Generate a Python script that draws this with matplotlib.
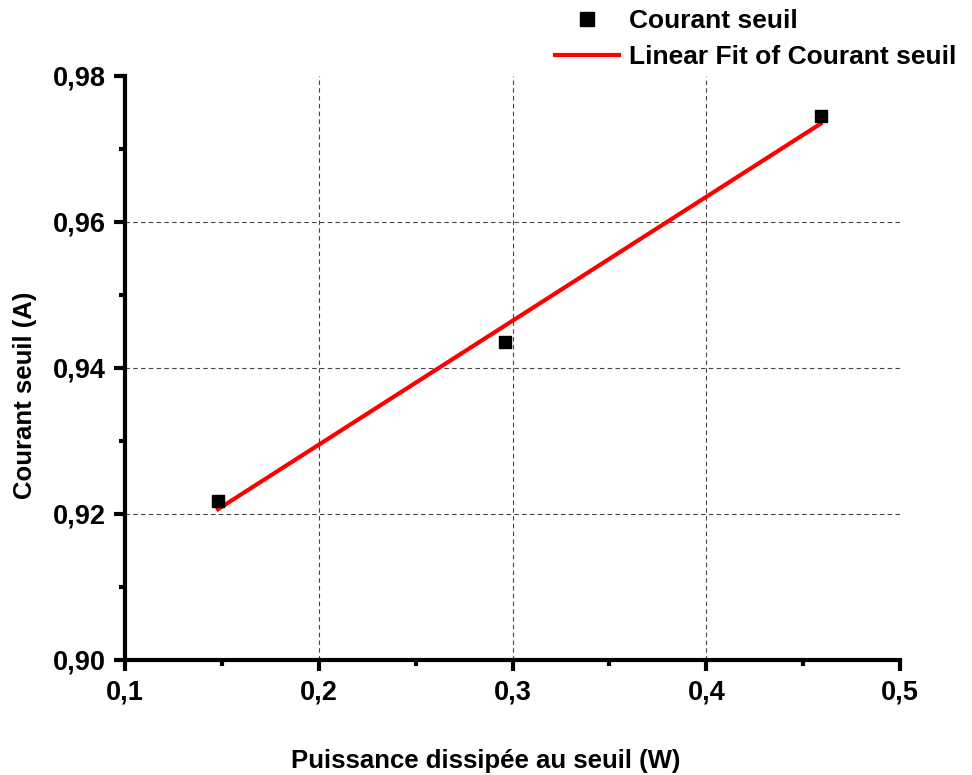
import numpy as np
import matplotlib
matplotlib.use("Agg")
import matplotlib.pyplot as plt
from matplotlib.ticker import MultipleLocator, FuncFormatter
from matplotlib.lines import Line2D

plt.rcParams['font.family'] = ['Liberation Sans', 'DejaVu Sans']
plt.rcParams['font.weight'] = 'bold'

puissance = [0.148, 0.296, 0.459]
courant = [0.9218, 0.9436, 0.9745]

x_ticks = [0.1, 0.2, 0.3, 0.4, 0.5]
y_ticks = [0.90, 0.92, 0.94, 0.96, 0.98]

fig = plt.figure(figsize=(9.72, 7.75), dpi=100)
ax = fig.add_axes([0.1286, 0.1484, 0.926 - 0.1286, 0.902 - 0.1484])

slope, intercept = np.polyfit(puissance, courant, 1)
xf = np.array([min(puissance), max(puissance)])
ax.plot(xf, slope * xf + intercept, color='red', lw=3, zorder=3)
ax.scatter(puissance, courant, marker='s', s=85, color='black', zorder=4)

ax.set_xlim(0.1, 0.5)
ax.set_ylim(0.90, 0.98)
ax.set_xticks(x_ticks)
ax.set_yticks(y_ticks)
ax.xaxis.set_minor_locator(MultipleLocator(0.05))
ax.yaxis.set_minor_locator(MultipleLocator(0.01))
ax.xaxis.set_major_formatter(FuncFormatter(lambda v, p: f"{v:.1f}".replace('.', ',')))
ax.yaxis.set_major_formatter(FuncFormatter(lambda v, p: f"{v:.2f}".replace('.', ',')))

for s in ['top', 'right']:
    ax.spines[s].set_visible(False)
for s in ['left', 'bottom']:
    ax.spines[s].set_linewidth(3)

ax.tick_params(which='major', direction='out', length=8, width=3, labelsize=19.5, pad=6)
ax.tick_params(which='minor', direction='out', length=4, width=3)
for lab in ax.get_xticklabels() + ax.get_yticklabels():
    lab.set_fontweight('bold')

ax.grid(True, which='major', linestyle=(0, (4, 3)), color='#444444', linewidth=0.8)
# no grid lines on the axis limits
xgl = ax.get_xgridlines()
ygl = ax.get_ygridlines()
xgl[0].set_visible(False); xgl[-1].set_visible(False)
ygl[0].set_visible(False); ygl[-1].set_visible(False)

ax.set_xlabel('Puissance dissipée au seuil (W)', fontsize=18.5, fontweight='bold')
ax.set_ylabel('Courant seuil (A)', fontsize=18.5, fontweight='bold')
ax.xaxis.set_label_coords(0.466, -0.152)
ax.yaxis.set_label_coords(-0.113, 0.454)

handles = [
    Line2D([], [], marker='s', color='black', linestyle='none', markersize=10),
    Line2D([], [], color='red', lw=3),
]
fig.legend(handles, ['Courant seuil', 'Linear Fit of Courant seuil'],
           loc='upper right', bbox_to_anchor=(1.003, 1.012), frameon=False,
           prop={'size': 19, 'weight': 'bold'}, handlelength=2.4,
           labelspacing=0.45, handletextpad=0.4, borderaxespad=0.3)

fig.savefig('out.png', dpi=100)
